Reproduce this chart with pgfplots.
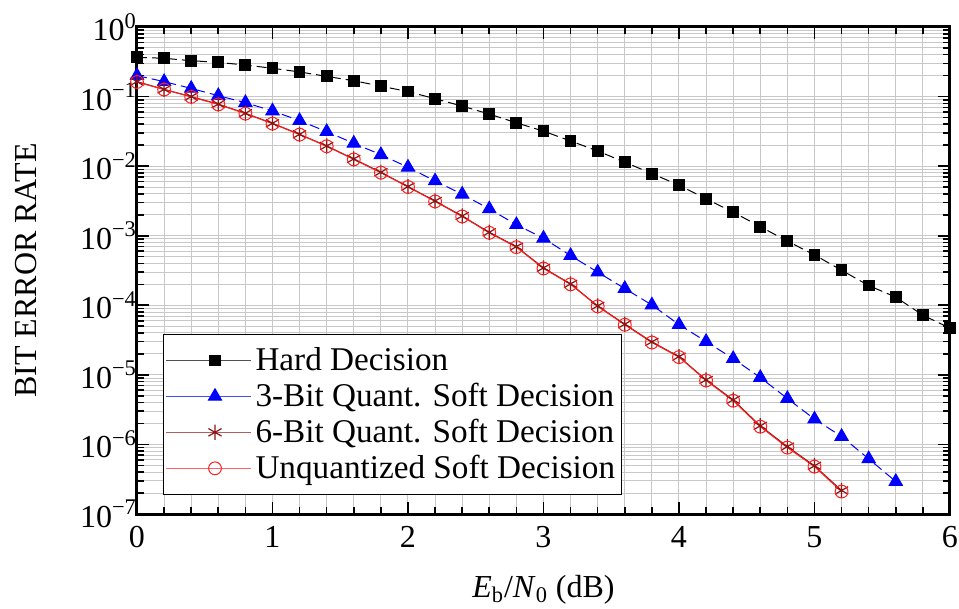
\documentclass[border=0pt]{standalone}
\usepackage{fontspec}
\setmainfont{Liberation Serif}
\usepackage{pgfplots}
\pgfplotsset{compat=1.18}
\definecolor{gridgray}{RGB}{200,200,200}
\definecolor{sixred}{RGB}{140,20,20}
\definecolor{unqred}{RGB}{255,30,30}
\begin{document}
\begin{tikzpicture}
\useasboundingbox (-68.5pt,-47.5pt) rectangle (411pt,257pt);
\begin{axis}[
  at={(0,0)}, anchor=south west, scale only axis,
  width=406.5pt, height=243.5pt,
  ymode=log, xmin=0, xmax=6, ymin=1e-7, ymax=1,
  xtick={0,1,2,3,4,5,6}, minor x tick num=4,
  ytick={1e-7,1e-6,1e-5,1e-4,1e-3,1e-2,1e-1,1},
  yticklabels={10\textsuperscript{−7},10\textsuperscript{−6},10\textsuperscript{−5},10\textsuperscript{−4},10\textsuperscript{−3},10\textsuperscript{−2},10\textsuperscript{−1},10\textsuperscript{0}},
  grid=both,
  major grid style={color=gridgray, line width=0.5pt},
  minor grid style={color=gridgray, line width=0.5pt},
  tick align=inside,
  major tick length=6pt, minor tick length=3.5pt,
  every tick/.style={black, line width=0.8pt},
  axis line style={line width=1.5pt},
  tick label style={font=\fontsize{16}{19}\selectfont},
  xticklabel style={yshift=-2.5pt},
  yticklabel style={xshift=3.5pt},
  /pgf/number format/assume math mode=true,
  xlabel={\textit{E}\textsubscript{b}/\textit{N}\textsubscript{0} (dB)},
  ylabel={BIT ERROR RATE},
  xlabel shift=7pt,
  ylabel shift=15pt,
  label style={font=\fontsize{16}{19}\selectfont},
  legend style={at={(0.032,0.039)}, anchor=south west, draw=black, line width=0.5pt,
    fill=white, font=\fontsize{16.6}{18}\selectfont, inner xsep=1pt, inner ysep=4.5pt, row sep=0.8pt},
  legend cell align=left,
  legend image code/.code={
    \path (-7.5pt,0pt) -- (35pt,0pt);
    \draw[#1,mark=none] (0pt,0pt) -- (10.5pt,0pt);
    \draw[#1,mark=none] (23.5pt,0pt) -- (34pt,0pt);
    \draw[#1] plot coordinates {(17pt,0pt)};
  },
]
\addlegendimage{color={rgb,255:red,80;green,80;blue,80}, solid, line width=0.5pt, mark=square*, mark size=2.7pt, mark options={black, fill=black}}
\addlegendentry{Hard Decision}
\addlegendimage{color={rgb,255:red,60;green,80;blue,255}, solid, line width=0.5pt, mark=triangle*, mark size=3.8pt, mark options={blue, fill=blue}}
\addlegendentry{3-Bit Quant. Soft Decision}
\addlegendimage{color={rgb,255:red,176;green,96;blue,96}, solid, line width=0.5pt, mark=asterisk, mark size=3.8pt, mark options={sixred, line width=0.6pt}}
\addlegendentry{6-Bit Quant. Soft Decision}
\addlegendimage{color={rgb,255:red,255;green,100;blue,100}, solid, line width=0.5pt, mark=o, mark size=3.2pt, mark options={unqred}}
\addlegendentry{Unquantized Soft Decision}
\addplot[forget plot, black, line width=0.5pt, dash pattern=on 5pt off 2.5pt, mark=square*, mark size=2.7pt, mark options={solid, fill=black}]
coordinates {
(0,0.367)(0.2,0.355)(0.4,0.328)(0.6,0.31)(0.8,0.284)(1.0,0.255)(1.2,0.226)(1.4,0.195)(1.6,0.169)(1.8,0.141)(2.0,0.118)(2.2,0.093)(2.4,0.073)(2.6,0.056)(2.8,0.042)(3.0,0.0318)(3.2,0.023)(3.4,0.0165)(3.6,0.0114)(3.8,0.00781)(4.0,0.00532)(4.2,0.00338)(4.4,0.00218)(4.6,0.00135)(4.8,0.000834)(5.0,0.00053)(5.2,0.000319)(5.4,0.000192)(5.6,0.000131)(5.8,7.2e-5)(6.0,4.7e-5)
};
\addplot[forget plot, blue, line width=0.5pt, dash pattern=on 5pt off 2.5pt, mark=triangle*, mark size=3.8pt, mark options={solid, fill=blue}]
coordinates {
(0,0.2)(0.2,0.164)(0.4,0.131)(0.6,0.103)(0.8,0.0818)(1.0,0.0621)(1.2,0.0451)(1.4,0.0313)(1.6,0.0213)(1.8,0.0146)(2.0,0.00964)(2.2,0.00613)(2.4,0.00394)(2.6,0.00243)(2.8,0.00144)(3.0,0.00092)(3.2,0.000518)(3.4,0.000299)(3.6,0.000174)(3.8,0.000101)(4.0,5.28e-5)(4.2,3.01e-5)(4.4,1.71e-5)(4.6,9.15e-6)(4.8,4.57e-6)(5.0,2.31e-6)(5.2,1.3e-6)(5.4,6.21e-7)(5.6,2.93e-7)
};
\addplot[forget plot, sixred, line width=0.5pt, mark=asterisk, mark size=3.8pt, mark options={solid, line width=0.6pt}]
coordinates {
(0,0.164)(0.2,0.127)(0.4,0.1)(0.6,0.078)(0.8,0.0575)(1.0,0.0413)(1.2,0.0287)(1.4,0.0195)(1.6,0.0127)(1.8,0.00817)(2.0,0.00508)(2.2,0.00316)(2.4,0.00192)(2.6,0.00112)(2.8,0.000697)(3.0,0.000345)(3.2,0.000203)(3.4,9.8e-5)(3.6,5.35e-5)(3.8,2.98e-5)(4.0,1.83e-5)(4.2,8.47e-6)(4.4,4.37e-6)(4.6,1.85e-6)(4.8,9.3e-7)(5.0,4.93e-7)(5.2,2.18e-7)
};
\addplot[forget plot, unqred, line width=0.5pt, mark=o, mark size=3.2pt, mark options={solid}]
coordinates {
(0,0.162)(0.2,0.126)(0.4,0.099)(0.6,0.077)(0.8,0.0568)(1.0,0.0408)(1.2,0.0284)(1.4,0.0193)(1.6,0.0125)(1.8,0.00805)(2.0,0.00502)(2.2,0.00311)(2.4,0.00189)(2.6,0.0011)(2.8,0.000685)(3.0,0.000338)(3.2,0.0002)(3.4,9.65e-5)(3.6,5.25e-5)(3.8,2.92e-5)(4.0,1.8e-5)(4.2,8.3e-6)(4.4,4.25e-6)(4.6,1.8e-6)(4.8,9.0e-7)(5.0,4.8e-7)(5.2,2.1e-7)
};
\end{axis}
\end{tikzpicture}
\end{document}
